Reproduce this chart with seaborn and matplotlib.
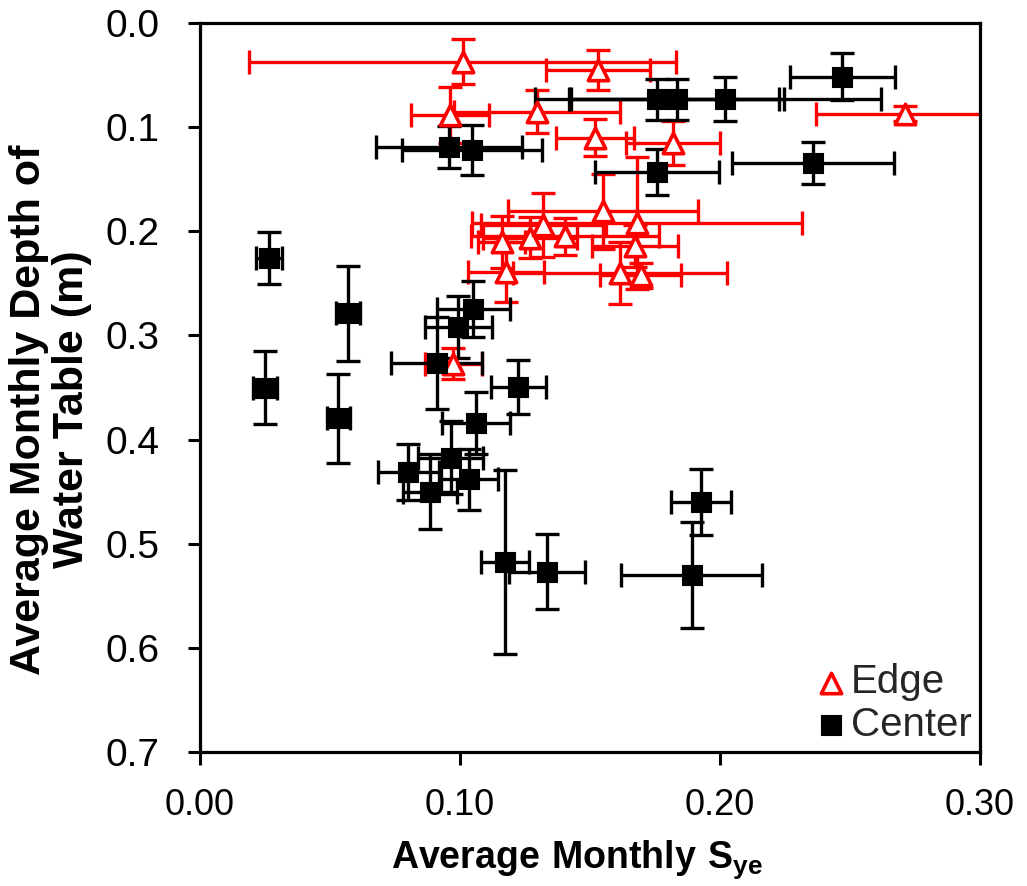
import numpy as np
import pandas as pd
import matplotlib
matplotlib.use("Agg")
import matplotlib.pyplot as plt
from matplotlib import font_manager
import seaborn as sns

# Edge sites (red open triangles): mean Sye, mean depth, and error half widths
edge_x = [0.101, 0.153, 0.096, 0.1295, 0.271, 0.152, 0.182, 0.155, 0.168,
          0.1673, 0.116, 0.127, 0.132, 0.1404, 0.1177, 0.1615, 0.1695, 0.0974]
edge_y = [0.037, 0.045, 0.088, 0.085, 0.087, 0.110, 0.115, 0.181, 0.192,
          0.214, 0.210, 0.206, 0.194, 0.205, 0.239, 0.240, 0.242, 0.327]
edge_xerr = [0.082, 0.020, 0.015, 0.032, 0.034, 0.015, 0.018, 0.0365, 0.0635,
             0.0164, 0.009, 0.018, 0.024, 0.036, 0.0147, 0.041, 0.0155, 0.011]
edge_yerr = [0.022, 0.019, 0.027, 0.021, 0.007, 0.018, 0.021, 0.036, 0.063,
             0.020, 0.025, 0.020, 0.031, 0.018, 0.029, 0.030, 0.012, 0.015]

# Center sites (black squares)
center_x = [0.2471, 0.1758, 0.1835, 0.2019, 0.0958, 0.1045, 0.1758, 0.2358, 0.0266,
            0.0568, 0.0250, 0.0532, 0.1051, 0.0994, 0.0910, 0.1224, 0.1062, 0.0964,
            0.0801, 0.1036, 0.0885, 0.1173, 0.1336, 0.1927, 0.1891]
center_y = [0.0516, 0.0733, 0.0733, 0.0733, 0.1188, 0.122, 0.1431, 0.1342, 0.2258,
            0.2789, 0.350, 0.3797, 0.2747, 0.2917, 0.3263, 0.3494, 0.384, 0.4176,
            0.431, 0.4383, 0.4502, 0.5175, 0.527, 0.4598, 0.5302]
center_xerr = [0.0203, 0.047, 0.041, 0.060, 0.028, 0.027, 0.024, 0.031, 0.005,
               0.0046, 0.0045, 0.0045, 0.014, 0.013, 0.0175, 0.0106, 0.013, 0.0125,
               0.0117, 0.011, 0.0105, 0.0092, 0.0146, 0.0115, 0.027]
center_yerr = [0.0225, 0.020, 0.020, 0.021, 0.020, 0.024, 0.022, 0.020, 0.025,
               0.046, 0.035, 0.043, 0.027, 0.030, 0.044, 0.026, 0.030, 0.035,
               0.027, 0.029, 0.036, 0.0885, 0.036, 0.0315, 0.051]

x_ticks = [0.0, 0.1, 0.2, 0.3]
x_ticklabels = ["0.00", "0.10", "0.20", "0.30"]
y_ticks = [0.0, 0.1, 0.2, 0.3, 0.4, 0.5, 0.6, 0.7]
y_ticklabels = ["0.0", "0.1", "0.2", "0.3", "0.4", "0.5", "0.6", "0.7"]

edge_df = pd.DataFrame({"x": edge_x, "y": edge_y})
center_df = pd.DataFrame({"x": center_x, "y": center_y})

sns.set_theme(style="ticks")
installed = {f.name for f in font_manager.fontManager.ttflist}
narrow = "Liberation Sans Narrow" if "Liberation Sans Narrow" in installed else "Liberation Sans"
plt.rcParams["font.family"] = ["Liberation Sans", "DejaVu Sans"]
plt.rcParams["mathtext.fontset"] = "custom"
plt.rcParams["mathtext.rm"] = narrow
plt.rcParams["mathtext.bf"] = narrow + ":bold"

fig = plt.figure(figsize=(10.27, 8.86), dpi=100)
ax = fig.add_axes([200 / 1027, 1 - 752 / 886, 780 / 1027, 729 / 886])

# error bars first, markers on top
ax.errorbar(edge_x, edge_y, xerr=edge_xerr, yerr=edge_yerr, fmt="none",
            ecolor="#ff0000", elinewidth=2.4, capsize=8.3, capthick=2.4, zorder=2)
ax.errorbar(center_x, center_y, xerr=center_xerr, yerr=center_yerr, fmt="none",
            ecolor="black", elinewidth=2.4, capsize=8.3, capthick=2.4, zorder=2.2)

sns.scatterplot(data=edge_df, x="x", y="y", marker="^", s=215, facecolor="white",
                edgecolor="#ff0000", linewidth=2.6, ax=ax, zorder=3, label="Edge")
sns.scatterplot(data=center_df, x="x", y="y", marker="s", s=200, color="black",
                edgecolor="black", linewidth=0.8, ax=ax, zorder=4, label="Center")

ax.set_xlim(0, 0.3)
ax.set_ylim(0.7, 0)
ax.set_xticks(x_ticks)
ax.set_xticklabels(x_ticklabels)
ax.set_yticks(y_ticks)
ax.set_yticklabels(y_ticklabels)
ax.tick_params(axis="both", direction="out", length=9, width=2.2, color="black",
               labelcolor="black")
ax.tick_params(axis="x", labelsize=26, pad=17)
ax.tick_params(axis="y", labelsize=28, pad=20)
for s in ax.spines.values():
    s.set_visible(True)
    s.set_linewidth(2.3)
    s.set_color("black")

ax.set_xlabel(r"$\mathbf{Average\ Monthly\ S_{ye}}$", fontsize=27, color="black")
ax.xaxis.set_label_coords(0.483, -0.118)
ax.set_ylabel("Average Monthly Depth of\nWater Table (m)", fontsize=31, fontweight="bold",
              family=narrow, color="black", linespacing=1.08)
ax.yaxis.set_label_coords(-0.139, 0.47)

ax.legend(loc="lower right", frameon=False, fontsize=29, handletextpad=0.1,
          handlelength=0.8, borderaxespad=0.1, borderpad=0.1, labelspacing=0.12)

fig.savefig("out.png", dpi=100)
